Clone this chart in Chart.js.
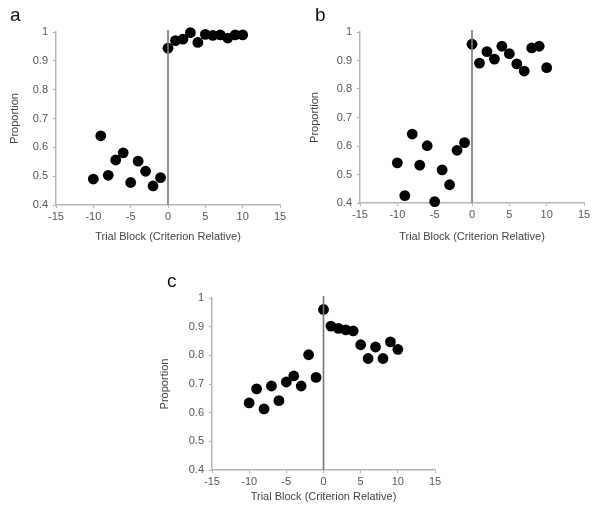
<!DOCTYPE html>
<html>
<head>
<meta charset="utf-8">
<script src="https://cdn.jsdelivr.net/npm/chart.js@4"></script>
<style>
  body { margin: 0; background: #fff; }
  #wrap { position: relative; width: 600px; height: 514px; overflow: hidden; }
  .panel { position: absolute; }
  .letter { position: absolute; font-family: "Liberation Sans", Arial, sans-serif; font-size: 19px; color: #111; line-height: 1; }
</style>
</head>
<body>
<div id="wrap">
  <div class="panel" style="left:0;top:0;width:300px;height:250px"><canvas id="chartA"></canvas></div>
  <div class="panel" style="left:300px;top:0;width:300px;height:250px"><canvas id="chartB"></canvas></div>
  <div class="panel" style="left:150px;top:250px;width:300px;height:264px"><canvas id="chartC"></canvas></div>
  <div class="letter" style="left:10px;top:5px">a</div>
  <div class="letter" style="left:315px;top:5px">b</div>
  <div class="letter" style="left:167px;top:271px">c</div>
</div>
<script>
// trial blocks relative to criterion
const blocks = [-10, -9, -8, -7, -6, -5, -4, -3, -2, -1, 0, 1, 2, 3, 4, 5, 6, 7, 8, 9, 10];

// proportion correct per block
const propA = [0.49, 0.64, 0.503, 0.556, 0.581, 0.478, 0.552, 0.517, 0.466, 0.495,
               0.944, 0.97, 0.975, 0.998, 0.964, 0.992, 0.988, 0.99, 0.979, 0.99, 0.99];
const propB = [0.541, 0.426, 0.642, 0.533, 0.601, 0.405, 0.516, 0.464, 0.585, 0.612,
               0.957, 0.891, 0.931, 0.905, 0.95, 0.924, 0.888, 0.863, 0.944, 0.95, 0.875];
const propC = [0.634, 0.683, 0.613, 0.693, 0.642, 0.707, 0.728, 0.693, 0.802, 0.723,
               0.96, 0.902, 0.894, 0.889, 0.885, 0.837, 0.789, 0.829, 0.789, 0.847, 0.821];

const xTicks = [-15, -10, -5, 0, 5, 10, 15];
const yTicks = [0.4, 0.5, 0.6, 0.7, 0.8, 0.9, 1];
const criterionBlock = 0;

const FONT = "'Liberation Sans', Arial, sans-serif";
const AXIS = "#b5b5b5";

// vertical line marking the criterion block
const criterionLine = {
  id: "criterionLine",
  afterDatasetsDraw(chart) {
    const x = chart.scales.x.getPixelForValue(criterionBlock);
    const { top, bottom } = chart.chartArea;
    const ctx = chart.ctx;
    ctx.save();
    ctx.strokeStyle = "#777";
    ctx.lineWidth = 1.6;
    ctx.beginPath();
    ctx.moveTo(x, top - 2);
    ctx.lineTo(x, bottom);
    ctx.stroke();
    ctx.restore();
  }
};

function makeChart(id, values, box) {
  const points = blocks.map((b, i) => ({ x: b, y: values[i] }));
  return new Chart(document.getElementById(id), {
    type: "scatter",
    data: {
      datasets: [{
        data: points,
        backgroundColor: "#000",
        borderWidth: 0,
        pointRadius: 5.4,
        pointHoverRadius: 5.4,
        clip: false
      }]
    },
    options: {
      responsive: true,
      maintainAspectRatio: false,
      animation: false,
      events: [],
      layout: { padding: { left: 0, top: box.top, right: box.right, bottom: 0 } },
      plugins: { legend: { display: false }, tooltip: { enabled: false } },
      scales: {
        x: {
          type: "linear",
          min: -15, max: 15,
          afterBuildTicks: s => { s.ticks = xTicks.map(v => ({ value: v })); },
          afterFit: s => { s.height = box.xHeight; },
          grid: { drawOnChartArea: false, drawTicks: true, tickLength: 3, color: AXIS },
          border: { color: AXIS, width: 1.5 },
          ticks: { color: "#555", font: { family: FONT, size: 11 }, padding: 2 },
          title: {
            display: true, text: "Trial Block (Criterion Relative)", color: "#444",
            font: { family: FONT, size: 11 }, padding: { top: 0, bottom: box.xTitlePad }
          }
        },
        y: {
          type: "linear",
          min: 0.4, max: 1,
          afterBuildTicks: s => { s.ticks = yTicks.map(v => ({ value: v })); },
          afterFit: s => { s.width = box.left; },
          grid: { drawOnChartArea: false, drawTicks: true, tickLength: 3, color: AXIS },
          border: { color: AXIS, width: 1.5 },
          ticks: { color: "#555", font: { family: FONT, size: 11 }, padding: 5,
                   callback: v => String(Math.round(v * 10) / 10) },
          title: {
            display: true, text: "Proportion", color: "#444",
            font: { family: FONT, size: 11 }, padding: { top: 8, bottom: 0 }
          }
        }
      }
    },
    plugins: [criterionLine]
  });
}

makeChart("chartA", propA, { left: 56, top: 32, right: 20, xHeight: 45, xTitlePad: 6 });
makeChart("chartB", propB, { left: 60, top: 32, right: 16, xHeight: 47, xTitlePad: 6 });
makeChart("chartC", propC, { left: 62, top: 48, right: 15, xHeight: 44, xTitlePad: 10 });
</script>
</body>
</html>
